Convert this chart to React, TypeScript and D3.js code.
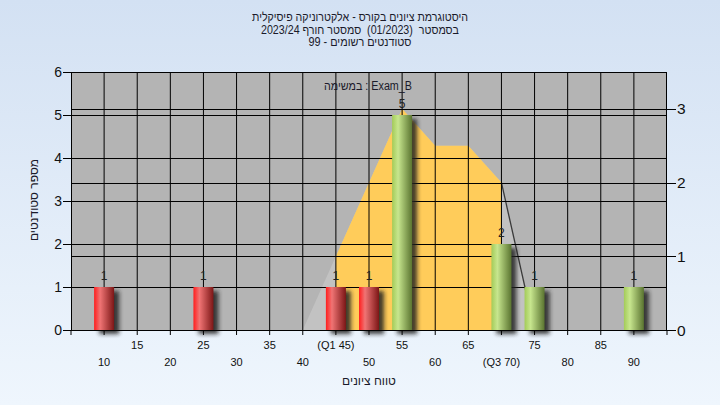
import React from "react";
import * as d3 from "d3";

const titleLines = [
  "היסטוגרמת ציונים בקורס - אלקטרוניקה פיסיקלית",
  "בסמסטר  (01/2023)  סמסטר חורף 2023/24",
  "סטודנטים רשומים - 99",
];
const titleWidths = [216, 198, 103];
const legendText = "במשימה : Exam_B";
const yTitle = "מספר סטודנטים";
const xTitle = "טווח ציונים";

const binCenters = [10, 25, 45, 50, 55, 70, 75, 90];
const counts = [1, 1, 1, 1, 5, 2, 1, 1];
const passFrom = 55;

const curveX = [40, 45, 50, 55, 60, 65, 70, 75];
const curveY = [0, 1, 2, 3, 2.5, 2.5, 2, 0];
const q1 = 45;
const q3 = 70;

const xTicks = [10, 15, 20, 25, 30, 35, 40, 45, 50, 55, 60, 65, 70, 75, 80, 85, 90];
const leftTicks = [0, 1, 2, 3, 4, 5, 6];
const rightTicks = [0, 1, 2, 3];

const W = 720;
const H = 405;
const L = 71;
const R = 667;
const T = 72;
const B = 330;

const FONT = "'Liberation Sans', Arial, sans-serif";

export default function App() {
  const x = d3.scaleLinear().domain([5, 95]).range([L, R]);
  const yL = d3.scaleLinear().domain([0, 6]).range([B, T]);
  const yR = d3.scaleLinear().domain([0, 3.5]).range([B, T]);
  const barW = 20;

  const pts = curveX.map((cx, i) => ({ x: cx, y: curveY[i] }));
  const area = d3
    .area<{ x: number; y: number }>()
    .x((d) => x(d.x))
    .y0(B)
    .y1((d) => yR(d.y));
  const inner = pts.filter((p) => p.x >= q1 && p.x <= q3);
  const last = pts.slice(pts.length - 2);
  const line = d3
    .line<{ x: number; y: number }>()
    .x((d) => x(d.x))
    .y((d) => yR(d.y));

  const tickLabel = (v: number) =>
    v === q1 ? `(Q1 ${v})` : v === q3 ? `(Q3 ${v})` : `${v}`;

  return (
    <svg
      width={W}
      height={H}
      style={{ position: "absolute", left: 0, top: 0, display: "block" }}
      fontFamily={FONT}
    >
      <defs>
        <linearGradient id="bg" x1="0" y1="0" x2="0" y2="1">
          <stop offset="0%" stopColor="#d3e1f3" />
          <stop offset="100%" stopColor="#eff6fd" />
        </linearGradient>
        <linearGradient id="red" x1="0" y1="0" x2="1" y2="0">
          <stop offset="0%" stopColor="#ff1e1e" />
          <stop offset="30%" stopColor="#f07474" />
          <stop offset="100%" stopColor="#7c1616" />
        </linearGradient>
        <linearGradient id="green" x1="0" y1="0" x2="1" y2="0">
          <stop offset="0%" stopColor="#a3cb58" />
          <stop offset="30%" stopColor="#c7e68e" />
          <stop offset="100%" stopColor="#5a7430" />
        </linearGradient>
        <filter id="shadow" x="-50%" y="-50%" width="200%" height="200%">
          <feGaussianBlur stdDeviation="2" />
        </filter>
      </defs>
      <rect x={0} y={0} width={W} height={H} fill="url(#bg)" />

      {titleLines.map((t, i) => (
        <text
          key={i}
          x={360}
          y={21 + i * 12.5}
          textAnchor="middle"
          direction="rtl"
          fontSize={12}
          fill="#1a1a2a"
          textLength={titleWidths[i]}
          lengthAdjust="spacingAndGlyphs"
          style={{ whiteSpace: "pre" }}
        >
          {t}
        </text>
      ))}

      {/* plot background */}
      <rect x={L} y={T} width={R - L} height={B - T} fill="#b4b4b4" />

      {/* distribution area */}
      <path d={area(pts) || ""} fill="#c2c2c2" />
      <path d={area(inner) || ""} fill="#ffcc5a" />
      <path d={line(last) || ""} fill="none" stroke="#3a3a3a" strokeWidth={1.3} />

      {/* gridlines */}
      {xTicks.map((v) => (
        <line key={"gx" + v} x1={x(v)} x2={x(v)} y1={T} y2={B} stroke="#000" strokeWidth={1} />
      ))}
      {leftTicks.map((v) => (
        <line key={"gl" + v} x1={L} x2={R} y1={Math.round(yL(v)) + 0.5} y2={Math.round(yL(v)) + 0.5} stroke="#000" />
      ))}
      {rightTicks.map((v) => (
        <line key={"gr" + v} x1={L} x2={R} y1={Math.round(yR(v)) + 0.5} y2={Math.round(yR(v)) + 0.5} stroke="#000" />
      ))}

      {/* bar shadows */}
      {binCenters.map((c, i) => (
        <rect
          key={"s" + c}
          x={x(c) - barW / 2 + 5}
          y={yL(counts[i]) + 4}
          width={barW}
          height={B - yL(counts[i])}
          fill="#222"
          opacity={0.85}
          filter="url(#shadow)"
        />
      ))}
      {/* bars */}
      {binCenters.map((c, i) => (
        <rect
          key={"b" + c}
          x={x(c) - barW / 2}
          y={yL(counts[i])}
          width={barW}
          height={B - yL(counts[i])}
          fill={c >= passFrom ? "url(#green)" : "url(#red)"}
        />
      ))}
      {binCenters.map((c, i) => (
        <text
          key={"l" + c}
          x={x(c)}
          y={yL(counts[i]) - 7}
          textAnchor="middle"
          fontSize={12}
          fill="#222"
        >
          {counts[i]}
        </text>
      ))}

      <text x={368} y={90} textAnchor="middle" fontSize={12} fill="#1a1a2a" textLength={88} lengthAdjust="spacingAndGlyphs">
        {legendText}
      </text>

      {/* frame */}
      <rect x={L + 0.5} y={T + 0.5} width={R - L - 1} height={B - T} fill="none" stroke="#000" />

      {/* left axis */}
      {leftTicks.map((v) => (
        <g key={"la" + v}>
          <line x1={L - 8} x2={L} y1={Math.round(yL(v)) + 0.5} y2={Math.round(yL(v)) + 0.5} stroke="#000" />
          <text x={L - 9} y={yL(v) + 5} textAnchor="end" fontSize={14} fill="#111">
            {v}
          </text>
        </g>
      ))}
      {/* right axis */}
      {rightTicks.map((v) => (
        <g key={"ra" + v}>
          <line x1={R} x2={R + 9} y1={Math.round(yR(v)) + 0.5} y2={Math.round(yR(v)) + 0.5} stroke="#000" />
          <text x={R + 10} y={yR(v) + 5.5} textAnchor="start" fontSize={15.5} fill="#111">
            {v}
          </text>
        </g>
      ))}
      {/* bottom axis */}
      <line x1={L} x2={R} y1={B + 0.5} y2={B + 0.5} stroke="#000" />
      {[5, ...xTicks, 95].map((v) => (
        <line key={"bt" + v} x1={x(v)} x2={x(v)} y1={B} y2={B + 5} stroke="#000" />
      ))}
      {xTicks.map((v) => (
        <text
          key={"bl" + v}
          x={x(v)}
          y={v % 10 === 0 ? 366 : 349}
          textAnchor="middle"
          fontSize={11}
          fill="#111"
        >
          {tickLabel(v)}
        </text>
      ))}

      <text
        transform={`translate(38,200) rotate(-90)`}
        textAnchor="middle"
        fontSize={12}
        fill="#1a1a2a"
      >
        {yTitle}
      </text>
      <text x={369} y={385} textAnchor="middle" fontSize={12} fill="#1a1a2a">
        {xTitle}
      </text>
    </svg>
  );
}
